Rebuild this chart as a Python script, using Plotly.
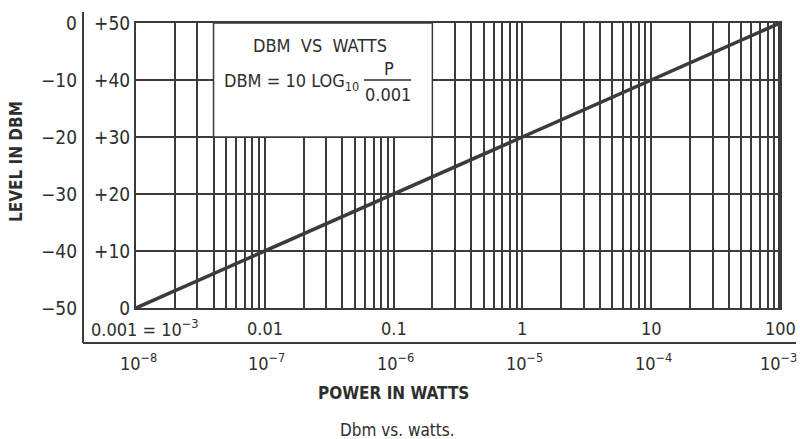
import numpy as np
import plotly.graph_objects as go

# Power (milliwatts) and the matching level in dBm above 1 microwatt
power_mw = [0.001, 0.01, 0.1, 1, 10, 100]
level_db = [0, 10, 20, 30, 40, 50]

# Axis labelling
y_ticks = [0, 10, 20, 30, 40, 50]
y_inner_labels = ["0", "+10", "+20", "+30", "+40", "+50"]
y_outer_labels = ["−50", "−40", "−30", "−20", "−10", "0"]
x_decades = [0.001, 0.01, 0.1, 1, 10, 100]
x_top_labels = ["0.001 = 10<sup>−3</sup>", "0.01", "0.1", "1", "10", "100"]
x_bottom_labels = ["10<sup>−8</sup>", "10<sup>−7</sup>", "10<sup>−6</sup>",
                   "10<sup>−5</sup>", "10<sup>−4</sup>", "10<sup>−3</sup>"]
grid_steps = [1, 2, 3, 4, 5, 6, 7, 8, 9]

INK = "#3b3b3b"
TXT = "#2e2e2e"
FONT = "Liberation Sans Narrow, DejaVu Sans Condensed, Arial Narrow, DejaVu Sans, sans-serif"

grid_x = [d * s for d in x_decades[:-1] for s in grid_steps] + [x_decades[-1]]

fig = go.Figure()
fig.add_trace(go.Scatter(
    x=power_mw, y=level_db, mode="lines",
    line=dict(color=INK, width=3.5), hoverinfo="skip", showlegend=False,
))

W, H = 800, 439
L, R, T, B = 136, 20, 23, 131
pw, ph = W - L - R, H - T - B


def px(x):
    return (x - L) / pw


def py(y):
    return (H - B - y) / ph


fig.update_layout(
    width=W, height=H,
    margin=dict(l=L, r=R, t=T, b=B),
    paper_bgcolor="white", plot_bgcolor="white",
    font=dict(family=FONT, color=TXT, size=18),
    xaxis=dict(
        type="log", range=[-3, 2], tickvals=grid_x, showticklabels=False,
        ticks="", showgrid=True, gridcolor=INK, gridwidth=1.5,
        showline=True, linecolor=INK, linewidth=2, mirror=True, zeroline=False,
    ),
    yaxis=dict(
        range=[0, 50], tickvals=y_ticks, ticktext=y_inner_labels, ticks="",
        showgrid=True, gridcolor=INK, gridwidth=1.5,
        showline=True, linecolor=INK, linewidth=2, mirror=True, zeroline=False,
        tickfont=dict(size=19, family=FONT, color=TXT),
    ),
)

shapes = [
    # title panel masking the grid
    dict(type="rect", xref="x", yref="y", x0=0.004, x1=0.2,
         y0=30, y1=50, fillcolor="white", line=dict(color=INK, width=1.5), layer="above"),
    # fraction bar in the formula
    dict(type="line", xref="paper", yref="paper", x0=px(364), x1=px(411),
         y0=py(80), y1=py(80), line=dict(color=TXT, width=1.5), layer="above"),
    # thick right edge
    dict(type="line", xref="x", yref="y", x0=100, x1=100,
         y0=0, y1=50, line=dict(color=INK, width=4), layer="above"),
    # outer frame: left rule and bottom rule
    dict(type="line", xref="paper", yref="paper", x0=px(83), x1=px(83),
         y0=py(12), y1=py(343), line=dict(color=INK, width=2)),
    dict(type="line", xref="paper", yref="paper", x0=px(83), x1=px(796),
         y0=py(343), y1=py(343), line=dict(color=INK, width=2)),
]
fig.update_layout(shapes=shapes)

ann = []
for v, t in zip(y_ticks, y_outer_labels):
    ann.append(dict(xref="paper", yref="y", x=px(79), y=v, text=t, xanchor="right",
                    yanchor="middle", showarrow=False, font=dict(size=19)))

for i, (v, t) in enumerate(zip(x_decades, x_top_labels)):
    if i == 0:
        ann.append(dict(xref="paper", yref="paper", x=px(89), y=py(328), text=t,
                        xanchor="left", yanchor="middle", showarrow=False, font=dict(size=18)))
    else:
        ann.append(dict(xref="x", yref="paper", x=np.log10(v), y=py(328), text=t,
                        xanchor="center", yanchor="middle", showarrow=False, font=dict(size=18)))

for i, (v, t) in enumerate(zip(x_decades, x_bottom_labels)):
    last = i == len(x_decades) - 1
    ann.append(dict(xref="x", yref="paper", x=np.log10(v), y=py(362), text=t,
                    xanchor=("right" if last else "center"), yanchor="middle", showarrow=False,
                    xshift=(19 if last else 2), font=dict(size=18)))

ann += [
    dict(xref="paper", yref="paper", x=px(320), y=py(45), text="DBM  VS  WATTS",
         showarrow=False, xanchor="center", yanchor="middle", font=dict(size=18)),
    dict(xref="paper", yref="paper", x=px(361), y=py(82), text="DBM = 10 LOG<sub>10</sub>",
         showarrow=False, xanchor="right", yanchor="middle", font=dict(size=18)),
    dict(xref="paper", yref="paper", x=px(389), y=py(68), text="P",
         showarrow=False, xanchor="center", yanchor="middle", font=dict(size=18)),
    dict(xref="paper", yref="paper", x=px(388), y=py(94), text="0.001",
         showarrow=False, xanchor="center", yanchor="middle", font=dict(size=18)),
    dict(xref="paper", yref="paper", x=px(393), y=py(393), text="<b>POWER IN WATTS</b>",
         showarrow=False, xanchor="center", yanchor="middle", font=dict(size=17)),
    dict(xref="paper", yref="paper", x=px(397), y=py(430), text="Dbm vs. watts.",
         showarrow=False, xanchor="center", yanchor="middle", font=dict(size=17)),
    dict(xref="paper", yref="paper", x=px(16), y=py(162), text="<b>LEVEL IN DBM</b>",
         showarrow=False, textangle=-90, xanchor="center", yanchor="middle", font=dict(size=17)),
]
fig.update_layout(annotations=ann)

fig.write_html("out.html")
